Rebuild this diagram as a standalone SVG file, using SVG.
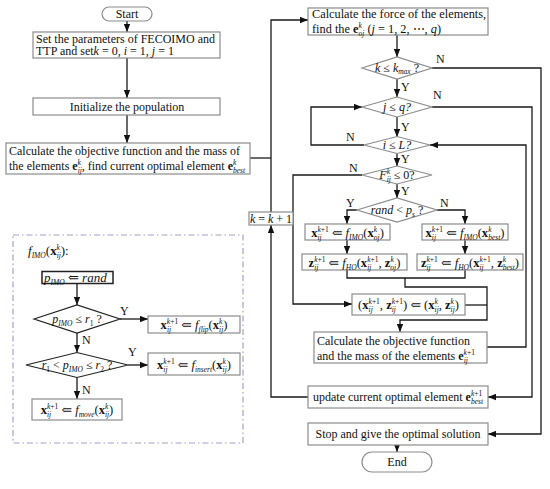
<svg xmlns="http://www.w3.org/2000/svg" width="550" height="489" viewBox="0 0 550 489">
<defs>
<marker id="ah" markerUnits="userSpaceOnUse" markerWidth="8" markerHeight="7" viewBox="0 0 10 8" refX="10" refY="4" orient="auto"><path d="M0,0 L10,4 L0,8 z" fill="#111"/></marker>
<style>
.b{fill:#fff;stroke:#8c8c8c;stroke-width:1.2}
.d{fill:#fff;stroke:#8c8c8c;stroke-width:1.2}
.t{font-family:"Liberation Serif","DejaVu Serif",serif;font-size:12px;fill:#111}
.f{font-size:12.6px}
.c{text-anchor:middle}
.i{font-style:italic}
.bd{font-weight:bold}
.s{font-size:7.5px}
.ln{fill:none;stroke:#1a1a1a;stroke-width:1.3}
.a{marker-end:url(#ah)}
.yn{font-family:"Liberation Serif","DejaVu Serif",serif;font-size:12px;fill:#111}
</style>
</defs>
<rect width="550" height="489" fill="#fff"/>

<g id="connectors">
<path class="ln a" d="M127,21 V32"/>
<path class="ln a" d="M127,58 V98"/>
<path class="ln a" d="M127,115 V143"/>
<path class="ln" d="M250,158 H271"/>
<path class="ln a" d="M271,212 V20 H308"/>
<path class="ln a" d="M308,397 H271 V225"/>
<path class="ln a" d="M397,35 V57"/>
<path class="ln a" d="M432,68 H541 V434 H488"/>
<path class="ln a" d="M397,79 V97"/>
<path class="ln a" d="M432,107 H532 V397 H488"/>
<path class="ln a" d="M397,117 V137"/>
<path class="ln a" d="M364,145 H311 V107 H362"/>
<path class="ln a" d="M487,347 H526 V145 H430"/>
<path class="ln a" d="M397,153 V166"/>
<path class="ln a" d="M362,175 H293 V304 H352"/>
<path class="ln a" d="M397,184 V198"/>
<path class="ln a" d="M357,210 H347 V224"/>
<path class="ln a" d="M437,210 H465 V224"/>
<path class="ln a" d="M347,240 V254"/>
<path class="ln a" d="M465,240 V254"/>
<path class="ln" d="M347,270 V278 H465 V270"/>
<path class="ln a" d="M405,278 V287 H487 V320 H400 V332"/>
<path class="ln" d="M465,305 H487"/>
<path class="ln a" d="M397,445 V452"/>
<path class="ln a" d="M77,284 V305"/>
<path class="ln a" d="M120,319 H148"/>
<path class="ln a" d="M77,333 V352.5"/>
<path class="ln a" d="M128,365 H148"/>
<path class="ln a" d="M77,377.5 V399"/>
</g>

<g id="labels">
<text class="yn" x="436" y="63">N</text>
<text class="yn" x="401" y="91">Y</text>
<text class="yn" x="433" y="99">N</text>
<text class="yn" x="401" y="131">Y</text>
<text class="yn" x="346" y="141">N</text>
<text class="yn" x="401" y="163">Y</text>
<text class="yn" x="349" y="172">N</text>
<text class="yn" x="401" y="195">Y</text>
<text class="yn" x="346" y="207">Y</text>
<text class="yn" x="440" y="207">N</text>
<text class="yn" x="120" y="315">Y</text>
<text class="yn" x="82" y="344">N</text>
<text class="yn" x="128" y="356">Y</text>
<text class="yn" x="82" y="394">N</text>
</g>

<g id="start">
<rect x="102" y="7" width="50" height="14" rx="7" class="b"/>
<text class="t c" x="127" y="18">Start</text>
</g>

<g id="set">
<rect x="33" y="32" width="187" height="26" class="b"/>
<text class="t" x="36" y="43">Set the parameters of FECOIMO and</text>
<text class="t" x="36" y="55">TTP and set<tspan class="i">k</tspan> = 0,  <tspan class="i">i</tspan> = 1,  <tspan class="i">j</tspan> = 1</text>
</g>

<g id="init">
<rect x="33" y="98" width="187" height="17" class="b"/>
<text class="t c" x="127" y="111">Initialize the population</text>
</g>

<g id="calc0">
<rect x="6" y="143" width="244" height="31" class="b"/>
<text class="t" x="9" y="155">Calculate the objective function and the mass of</text>
<text class="t" x="9" y="170">the elements <tspan class="bd">e</tspan><tspan class="s i" dy="3">ij</tspan><tspan class="s i" dx="-4.2" dy="-8">k</tspan><tspan dx="0.8" dy="5">, find current optimal element  </tspan><tspan class="bd">e</tspan><tspan class="s i" dy="3">best</tspan><tspan class="s i" dx="-12.1" dy="-8">k</tspan></text>
</g>

<g id="kinc">
<rect x="249" y="212" width="44" height="13" class="b"/>
<text class="t c" x="271" y="222.5"><tspan class="i">k</tspan> = <tspan class="i">k</tspan> + 1</text>
</g>

<g id="force">
<rect x="308" y="8" width="180" height="27" class="b"/>
<text class="t" x="312" y="18" style="font-size:12.3px">Calculate the force of the elements,</text>
<text class="t" x="312" y="32.5" style="font-size:12.3px">find the <tspan class="bd">e</tspan><tspan class="s i" dy="3">oj</tspan><tspan class="s i" dx="-5.8" dy="-8">k</tspan><tspan dx="2.5" dy="5">  (</tspan><tspan class="i">j</tspan> = 1,  2,  ⋯,  <tspan class="i">q</tspan>)</text>
</g>

<g id="kmax">
<polygon class="d" points="362,68 397,57 432,68 397,79"/>
<text class="t c" x="397" y="72"><tspan class="i">k</tspan> ≤ <tspan class="i">k</tspan><tspan class="s i" dy="2">max</tspan><tspan dy="-2"> ?</tspan></text>
</g>

<g id="jq">
<polygon class="d" points="362,107 397,97 432,107 397,117"/>
<text class="t c i" x="397" y="111">j ≤ q?</text>
</g>

<g id="iL">
<polygon class="d" points="364,145 397,136.5 430,145 397,153.5"/>
<text class="t c i" x="397" y="149">i ≤ L?</text>
</g>

<g id="F">
<polygon class="d" points="362,175 397,166 432,175 397,184"/>
<text class="t c" x="397" y="179"><tspan class="i">F</tspan><tspan class="s i" dy="3">ij</tspan><tspan class="s i" dx="-4.2" dy="-8">k</tspan><tspan dx="0.8" dy="5"> ≤ 0?</tspan></text>
</g>

<g id="rand">
<polygon class="d" points="357,210 397,198 437,210 397,222"/>
<text class="t c" x="397" y="214"><tspan class="i">rand</tspan> &lt; <tspan class="i">p</tspan><tspan class="s i" dy="3">s</tspan><tspan dy="-3"> ?</tspan></text>
</g>

<g id="x1">
<rect x="305" y="224" width="85" height="16" class="b"/>
<text class="t c f" x="347.5" y="236.5"><tspan class="bd">x</tspan><tspan class="s i" dy="3">ij</tspan><tspan class="s" dx="-4.2" dy="-8"><tspan class="i">k</tspan>+1</tspan><tspan dy="5"> ⇐ </tspan><tspan class="i">f</tspan><tspan class="s i" dy="3">IMO</tspan><tspan dy="-3">(</tspan><tspan class="bd">x</tspan><tspan class="s i" dy="3">oj</tspan><tspan class="s i" dx="-5.8" dy="-8">k</tspan><tspan dx="2.5" dy="5">)</tspan></text>
</g>

<g id="x2">
<rect x="422" y="224" width="86" height="16" class="b"/>
<text class="t c f" x="465" y="236.5"><tspan class="bd">x</tspan><tspan class="s i" dy="3">ij</tspan><tspan class="s" dx="-4.2" dy="-8"><tspan class="i">k</tspan>+1</tspan><tspan dy="5"> ⇐ </tspan><tspan class="i">f</tspan><tspan class="s i" dy="3">IMO</tspan><tspan dy="-3">(</tspan><tspan class="bd">x</tspan><tspan class="s i" dy="3">best</tspan><tspan class="s i" dx="-12.1" dy="-8">k</tspan><tspan dx="8.8" dy="5">)</tspan></text>
</g>

<g id="z1">
<rect x="302" y="254" width="105" height="16" class="b"/>
<text class="t c f" x="354.5" y="266.5"><tspan class="bd">z</tspan><tspan class="s i" dy="3">ij</tspan><tspan class="s" dx="-4.2" dy="-8"><tspan class="i">k</tspan>+1</tspan><tspan dy="5"> ⇐ </tspan><tspan class="i">f</tspan><tspan class="s i" dy="3">HO</tspan><tspan dy="-3">(</tspan><tspan class="bd">x</tspan><tspan class="s i" dy="3">ij</tspan><tspan class="s" dx="-4.2" dy="-8"><tspan class="i">k</tspan>+1</tspan><tspan dy="5">, </tspan><tspan class="bd">z</tspan><tspan class="s i" dy="3">oj</tspan><tspan class="s i" dx="-5.8" dy="-8">k</tspan><tspan dx="2.5" dy="5">)</tspan></text>
</g>

<g id="z2">
<rect x="417" y="254" width="106" height="16" class="b"/>
<text class="t c f" x="470" y="266.5"><tspan class="bd">z</tspan><tspan class="s i" dy="3">ij</tspan><tspan class="s" dx="-4.2" dy="-8"><tspan class="i">k</tspan>+1</tspan><tspan dy="5"> ⇐ </tspan><tspan class="i">f</tspan><tspan class="s i" dy="3">HO</tspan><tspan dy="-3">(</tspan><tspan class="bd">x</tspan><tspan class="s i" dy="3">ij</tspan><tspan class="s" dx="-4.2" dy="-8"><tspan class="i">k</tspan>+1</tspan><tspan dy="5">, </tspan><tspan class="bd">z</tspan><tspan class="s i" dy="3">best</tspan><tspan class="s i" dx="-12.1" dy="-8">k</tspan><tspan dx="8.8" dy="5">)</tspan></text>
</g>

<g id="xz">
<rect x="352" y="294" width="113" height="21" class="b"/>
<text class="t c f" x="408.5" y="309">(<tspan class="bd">x</tspan><tspan class="s i" dy="3">ij</tspan><tspan class="s" dx="-4.2" dy="-8"><tspan class="i">k</tspan>+1</tspan><tspan dy="5">, </tspan><tspan class="bd">z</tspan><tspan class="s i" dy="3">ij</tspan><tspan class="s" dx="-4.2" dy="-8"><tspan class="i">k</tspan>+1</tspan><tspan dy="5">) ⇐ (</tspan><tspan class="bd">x</tspan><tspan class="s i" dy="3">ij</tspan><tspan class="s i" dx="-4.2" dy="-8">k</tspan><tspan dx="0.8" dy="5">, </tspan><tspan class="bd">z</tspan><tspan class="s i" dy="3">ij</tspan><tspan class="s i" dx="-4.2" dy="-8">k</tspan><tspan dx="0.8" dy="5">)</tspan></text>
</g>

<g id="calc1">
<rect x="314" y="332" width="173" height="31" class="b"/>
<text class="t" x="317" y="345">Calculate the objective function</text>
<text class="t" x="317" y="359.5">and the mass of the elements  <tspan class="bd">e</tspan><tspan class="s i" dy="3">ij</tspan><tspan class="s" dx="-4.2" dy="-8"><tspan class="i">k</tspan>+1</tspan></text>
</g>

<g id="update">
<rect x="308" y="386" width="180" height="22" class="b"/>
<text class="t c" x="398" y="401">update current optimal element  <tspan class="bd">e</tspan><tspan class="s i" dy="3">best</tspan><tspan class="s" dx="-12.1" dy="-8"><tspan class="i">k</tspan>+1</tspan></text>
</g>

<g id="stop">
<rect x="308" y="423" width="180" height="22" class="b"/>
<text class="t c" x="398" y="438">Stop and give the optimal solution</text>
</g>

<g id="end">
<rect x="362" y="452" width="70" height="20" rx="10" class="b"/>
<text class="t c" x="397" y="466">End</text>
</g>

<g id="imo">
<rect x="13" y="235" width="230" height="208" fill="none" stroke="#aa9dca" stroke-width="1.2" stroke-dasharray="6 3 1.5 3"/>
<text class="t" x="28" y="255" style="font-size:13px"><tspan class="i">f</tspan><tspan class="s i" dy="3">IMO</tspan><tspan dy="-3">(</tspan><tspan class="bd">x</tspan><tspan class="s i" dy="3">ij</tspan><tspan class="s i" dx="-4.2" dy="-8">k</tspan><tspan dx="0.8" dy="5">):</tspan></text>
</g>

<g id="prand">
<rect x="42" y="271.5" width="71" height="12" fill="#fff" stroke="#222" stroke-width="1.5"/>
<text class="t" x="44" y="282" style="font-size:13px"><tspan class="i">p</tspan><tspan class="s i" dy="3">IMO</tspan><tspan dy="-3"> ⇐ </tspan><tspan class="i">rand</tspan></text>
</g>

<g id="d1">
<polygon points="34,319 77,305 120,319 77,333" fill="#fff" stroke="#222" stroke-width="1.2"/>
<text class="t c" x="77" y="323"><tspan class="i">p</tspan><tspan class="s i" dy="3">IMO</tspan><tspan dy="-3"> ≤ </tspan><tspan class="i">r</tspan><tspan class="s" dy="3">1</tspan><tspan dy="-3"> ?</tspan></text>
</g>

<g id="flip">
<rect x="148" y="316" width="92" height="17" class="b"/>
<text class="t c f" x="194" y="329"><tspan class="bd">x</tspan><tspan class="s i" dy="3">ij</tspan><tspan class="s" dx="-4.2" dy="-8"><tspan class="i">k</tspan>+1</tspan><tspan dy="5"> ⇐ </tspan><tspan class="i">f</tspan><tspan class="s i" dy="3">flip</tspan><tspan dy="-3">(</tspan><tspan class="bd">x</tspan><tspan class="s i" dy="3">ij</tspan><tspan class="s i" dx="-4.2" dy="-8">k</tspan><tspan dx="0.8" dy="5">)</tspan></text>
</g>

<g id="d2">
<polygon points="26,365 77,352.5 128,365 77,377.5" fill="#fff" stroke="#222" stroke-width="1.2"/>
<text class="t c" x="77" y="369"><tspan class="i">r</tspan><tspan class="s" dy="3">1</tspan><tspan dy="-3"> &lt; </tspan><tspan class="i">p</tspan><tspan class="s i" dy="3">IMO</tspan><tspan dy="-3"> ≤ </tspan><tspan class="i">r</tspan><tspan class="s" dy="3">2</tspan><tspan dy="-3"> ?</tspan></text>
</g>

<g id="insert">
<rect x="148" y="353" width="92" height="22" class="b"/>
<text class="t c f" x="194" y="368.5"><tspan class="bd">x</tspan><tspan class="s i" dy="3">ij</tspan><tspan class="s" dx="-4.2" dy="-8"><tspan class="i">k</tspan>+1</tspan><tspan dy="5"> ⇐ </tspan><tspan class="i">f</tspan><tspan class="s i" dy="3">insert</tspan><tspan dy="-3">(</tspan><tspan class="bd">x</tspan><tspan class="s i" dy="3">ij</tspan><tspan class="s i" dx="-4.2" dy="-8">k</tspan><tspan dx="0.8" dy="5">)</tspan></text>
</g>

<g id="move">
<rect x="32" y="399" width="90" height="21" class="b"/>
<text class="t c f" x="77" y="414"><tspan class="bd">x</tspan><tspan class="s i" dy="3">ij</tspan><tspan class="s" dx="-4.2" dy="-8"><tspan class="i">k</tspan>+1</tspan><tspan dy="5"> ⇐ </tspan><tspan class="i">f</tspan><tspan class="s i" dy="3">move</tspan><tspan dy="-3">(</tspan><tspan class="bd">x</tspan><tspan class="s i" dy="3">ij</tspan><tspan class="s i" dx="-4.2" dy="-8">k</tspan><tspan dx="0.8" dy="5">)</tspan></text>
</g>
</svg>
